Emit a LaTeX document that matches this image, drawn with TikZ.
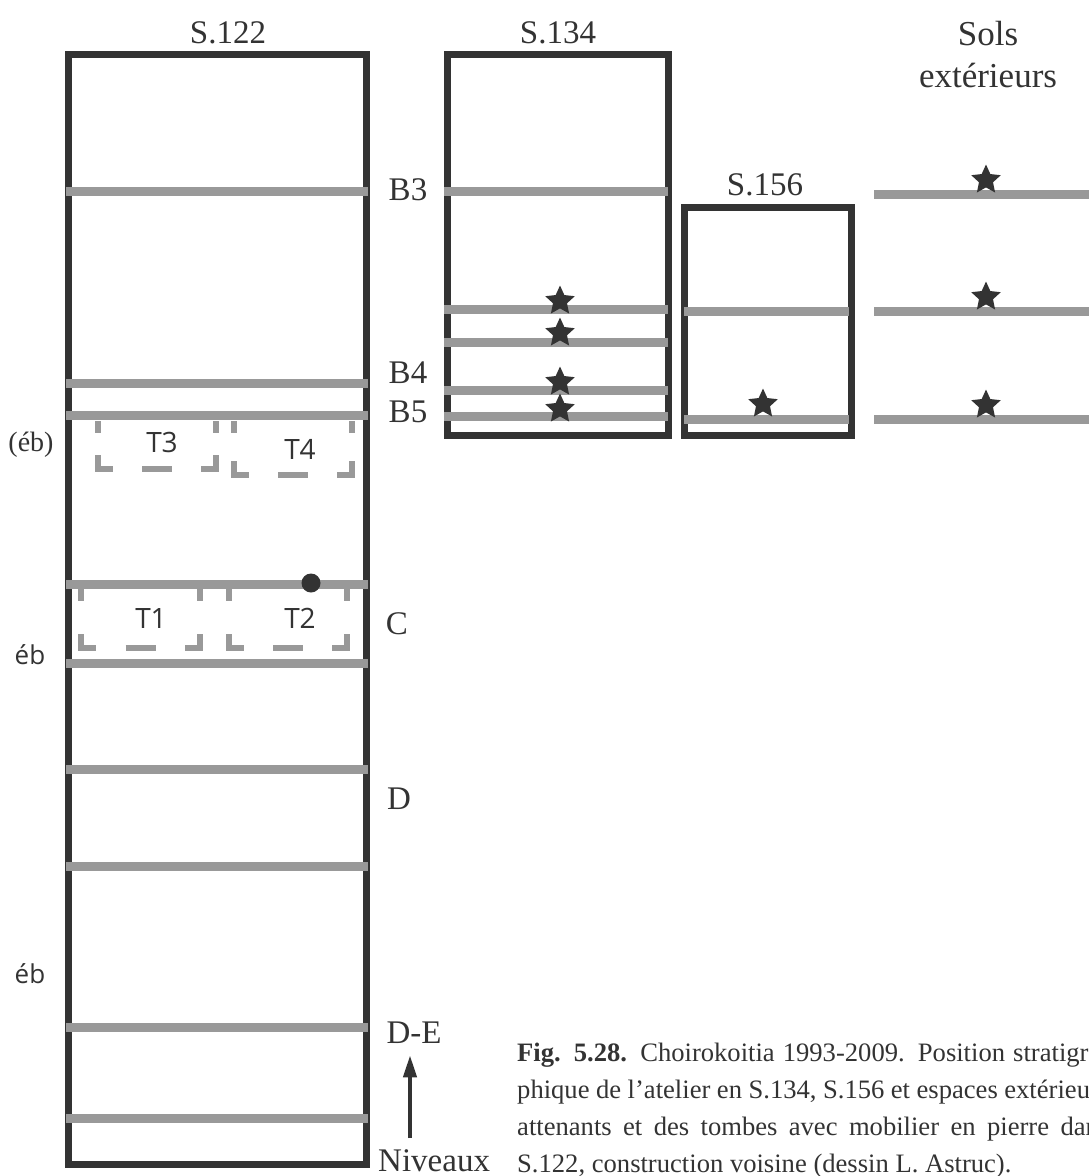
\documentclass[tikz,border=0pt]{standalone}
\usepackage{fontspec}
\setmainfont{Liberation Serif}
\newfontfamily\sanslabel{Open Sans}
\usetikzlibrary{shapes.geometric,arrows.meta}

\definecolor{bord}{HTML}{333333}
\definecolor{sol}{HTML}{999999}

\tikzset{
    salle/.style={draw=bord, line width=7pt},
    niveau/.style={draw=sol, line width=9pt},
    tombe/.style={draw=sol, line width=6pt, line join=miter},
    etoile/.style={star, star points=5, star point ratio=2.1, fill=bord, inner sep=0pt, minimum size=31pt},
    titre/.style={font=\fontsize{33}{40}\selectfont, text=bord, inner sep=0pt, anchor=base},
    petit/.style={font=\sanslabel\fontsize{28}{34}\selectfont, text=bord, inner sep=0pt},
    legende/.style={font=\fontsize{26.6}{37}\selectfont, text=bord, inner sep=0pt, anchor=base west},
    fleche/.style={-{Triangle[length=22pt,width=13pt]}, draw=bord, line width=4pt}
}

% tombe : coins en L, tirets au milieu du bas
\newcommand{\tombeau}[4]{%
    \draw[tombe] (#1,#2) -- ++(0,12);
    \draw[tombe] (#3,#2) -- ++(0,12);
    \draw[tombe] (#1,#4-14) -- (#1,#4) -- (#1+15,#4);
    \draw[tombe] (#3-15,#4) -- (#3,#4) -- (#3,#4-14);
    \draw[tombe] ({(#1+#3)/2-15},#4) -- ++(30,0);
}

\begin{document}
\begin{tikzpicture}[x=1pt, y=-1pt]
    \clip (0,0) rectangle (1089,1176);

    % S.122
    \begin{scope}
        \draw[salle] (68,54) rectangle (366,1164);
        \foreach \y in {191,383,415,584,663,769,866,1027,1118}
            \draw[niveau] (66,\y) -- (368,\y);
        \node[titre] (s122) at (228,43) {S.122};

        % tombes
        \tombeau{98}{421}{216}{469}
        \tombeau{234}{421}{352}{475}
        \tombeau{81}{589}{200}{648}
        \tombeau{229}{589}{347}{648}
        \node[petit] (t3) at (162,442) {T3};
        \node[petit] (t4) at (300,449) {T4};
        \node[petit] (t1) at (151,618) {T1};
        \node[petit] (t2) at (300,618) {T2};
        \fill[bord] (311,583) circle (9.5);

        % niveaux
        \node[titre] (b3) at (408,200) {B3};
        \node[titre] (b4) at (408,383) {B4};
        \node[titre] (b5) at (408,422) {B5};
        \node[titre] (c) at (397,634) {C};
        \node[titre] (d) at (399,809) {D};
        \node[titre] (de) at (414,1043) {D-E};
        \node[titre, anchor=base west] (niveaux) at (378,1171) {Niveaux};
        \coordinate (pied) at (410,1138);
        \draw[fleche] (pied) -- ([yshift=-12pt]de.south -| pied);

        % éboulis
        \node[titre, font=\fontsize{28}{34}\selectfont] (eb1) at (31,451) {(éb)};
        \node[petit, anchor=base, font=\sanslabel\fontsize{26}{30}\selectfont] (eb2) at (30,664) {éb};
        \node[petit, anchor=base, font=\sanslabel\fontsize{26}{30}\selectfont] (eb3) at (30,983) {éb};
    \end{scope}

    % S.134
    \begin{scope}
        \draw[salle] (447,54) rectangle (668,435);
        \foreach \y in {191,309,342,390,416}
            \draw[niveau] (444,\y) -- (668,\y);
        \foreach \y [count=\i] in {301,333,382,409}
            \node[etoile] (e134-\i) at (560,\y) {};
        \node[titre] (s134) at (558,43) {S.134};
    \end{scope}

    % S.156
    \begin{scope}
        \draw[salle] (684,207) rectangle (851,435);
        \foreach \y in {311,419}
            \draw[niveau] (684,\y) -- (849,\y);
        \node[etoile] (e156) at (763,404) {};
        \node[titre] (s156) at (765,195) {S.156};
    \end{scope}

    % sols extérieurs
    \begin{scope}
        \foreach \y [count=\i] in {194,311,419} {
            \draw[niveau] (874,\y) -- (1089,\y);
            \node[etoile] (eext-\i) at (986,\y-14) {};
        }
        \node[titre, font=\fontsize{35}{42}\selectfont] (sols) at (988,45) {Sols};
        \node[titre, font=\fontsize{35}{42}\selectfont] (ext) at (988,87) {extérieurs};
    \end{scope}

    % légende
    \node[legende] (leg1) at (517,1061) {\makebox[592pt][s]{\textbf{Fig. 5.28.} Choirokoitia 1993-2009. Position stratigra-}};
    \node[legende] (leg2) at (517,1098) {\makebox[592pt][s]{phique de l'atelier en S.134, S.156 et espaces extérieurs}};
    \node[legende] (leg3) at (517,1135) {\makebox[592pt][s]{attenants et des tombes avec mobilier en pierre dans}};
    \node[legende] (leg4) at (517,1172) {S.122, construction voisine (dessin L. Astruc).};
\end{tikzpicture}
\end{document}
